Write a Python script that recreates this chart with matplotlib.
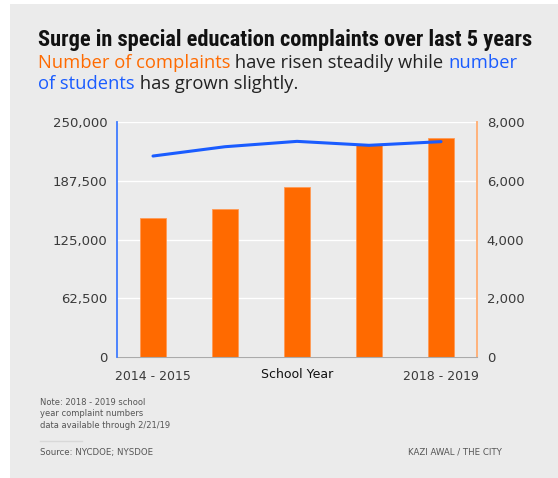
import numpy as np
import matplotlib.pyplot as plt
from matplotlib import font_manager
from matplotlib.patches import Rectangle

years = ['2014 - 2015', '2015 - 2016', '2016 - 2017', '2017 - 2018', '2018 - 2019']
complaints = [4740, 5030, 5790, 7220, 7460]
students = [213800, 223700, 229400, 225200, 229100]
left_ticks = [0, 62500, 125000, 187500, 250000]
right_ticks = [0, 2000, 4000, 6000, 8000]

BG = '#ebebeb'
ORANGE = '#ff6a00'
BLUE = '#1a5cff'
W, H = 558, 478

# pick a narrow bold face for the title if there is one
installed = {f.name for f in font_manager.fontManager.ttflist}
title_font = {'family': 'DejaVu Sans'}
for cand in ['Liberation Sans Narrow', 'DejaVu Sans Condensed', 'Roboto Condensed',
             'Open Sans Condensed']:
    if cand in installed:
        title_font = {'family': cand}
        break
else:
    if any(f.name == 'DejaVu Sans' and f.stretch == 'condensed' for f in font_manager.fontManager.ttflist):
        title_font = {'family': 'DejaVu Sans', 'fontstretch': 'condensed'}

fig = plt.figure(figsize=(W / 100, H / 100), dpi=100, facecolor='white')
fig.patches.append(Rectangle((10 / W, 0), 1, 1 - 4 / H, transform=fig.transFigure,
                             facecolor=BG, edgecolor='none', zorder=-10))
renderer = fig.canvas.get_renderer()

# axes box in pixels: x 117..477, y 122..357
ax2 = fig.add_axes([117 / W, 1 - 357 / H, 360 / W, 235 / H])
ax2.set_facecolor(BG)
ax = ax2.twinx()

x = np.arange(len(years))
ax2.bar(x, complaints, width=0.35, color=ORANGE, edgecolor='#ff9a55', linewidth=0.6, zorder=2)
ax2.set_ylim(0, 8000)
ax2.set_yticks(right_ticks)
ax2.set_yticklabels([f'{t:,}' for t in right_ticks])
ax2.yaxis.tick_right()
ax2.grid(axis='y', color='white', lw=1)
ax2.set_axisbelow(True)
ax2.set_xlim(-0.5, 4.5)
ax2.set_xticks([0, 4])
ax2.set_xticklabels([years[0], years[-1]])

ax.plot(x, students, color=BLUE, lw=2.2, solid_capstyle='round')
ax.set_ylim(0, 250000)
ax.set_yticks(left_ticks)
ax.set_yticklabels([f'{t:,}' for t in left_ticks])
ax.yaxis.tick_left()

for a in (ax, ax2):
    a.tick_params(length=0, labelsize=9.5, colors='#3a3a3a', pad=7)
    for s in a.spines.values():
        s.set_visible(False)
ax.spines['left'].set_visible(True)
ax.spines['left'].set_color('#3f7bff')
ax.spines['left'].set_linewidth(1.3)
ax2.spines['right'].set_visible(True)
ax2.spines['right'].set_color('#ffb27a')
ax2.spines['right'].set_linewidth(1.4)
ax2.spines['bottom'].set_visible(True)
ax2.spines['bottom'].set_color('#aaaaaa')
ax2.tick_params(axis='x', pad=9, labelsize=9)
ax2.text(0.5, -0.075, 'School Year', transform=ax2.transAxes, ha='center', va='center',
         fontsize=9, color='#111111')


def fit_text(xp, yp, s, width, **kw):
    t = fig.text(xp / W, 1 - yp / H, s, va='center', ha='left', **kw)
    w = t.get_window_extent(renderer).width
    t.set_fontsize(t.get_fontsize() * width / w)
    return t


# title
fit_text(38, 40, 'Surge in special education complaints over last 5 years', 497,
         fontsize=14, fontweight='bold', color='#111111', **title_font)

# subtitle with colored parts
lines = [
    [('Number of complaints', ORANGE), (' have risen steadily while ', '#222222'), ('number', BLUE)],
    [('of students', BLUE), (' has grown slightly.', '#222222')],
]
probe = fig.text(0, 0, ''.join(p for p, _ in lines[0]), fontsize=12, family='Open Sans')
sub_size = 12 * 477 / probe.get_window_extent(renderer).width
probe.remove()
for parts, yy in zip(lines, [63, 84]):
    xp = 38
    for txt, col in parts:
        t = fig.text(xp / W, 1 - yy / H, txt, fontsize=sub_size, color=col, va='center',
                     ha='left', family='Open Sans')
        xp += t.get_window_extent(renderer).width

fig.text(40 / W, 1 - 414 / H, 'Note: 2018 - 2019 school\nyear complaint numbers\ndata available through 2/21/19',
         fontsize=6, color='#555555', va='center', ha='left', linespacing=1.35)
fig.add_artist(plt.Line2D([40 / W, 82 / W], [1 - 441 / H, 1 - 441 / H], color='#d8d8d8', lw=1))
fig.text(40 / W, 1 - 452 / H, 'Source: NYCDOE; NYSDOE', fontsize=6.2, color='#555555',
         va='center', ha='left')
fig.text(502 / W, 1 - 452 / H, 'KAZI AWAL / THE CITY', fontsize=6.2, color='#555555',
         va='center', ha='right')

fig.savefig('out.png', dpi=100, facecolor='white')
